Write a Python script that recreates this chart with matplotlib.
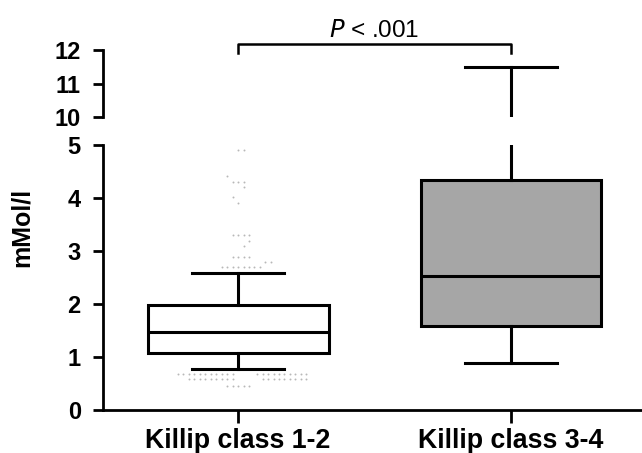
# Killip class box plot with broken y axis

import numpy as np
import matplotlib.pyplot as plt

plt.rcParams['font.family'] = ['Liberation Sans', 'DejaVu Sans']

categories = ['Killip class 1-2', 'Killip class 3-4']
whis_lo = [0.77, 0.88]
q1 = [1.08, 1.58]
median = [1.48, 2.52]
q3 = [1.98, 4.34]
whis_hi = [2.58, 11.5]
box_colors = ['white', '#a6a6a6']

# outlier dots of Killip 1-2 (value, horizontal offset)
dots_y = [4.91, 4.91,
          4.41,
          4.31, 4.31, 4.31,
          4.20, 4.01, 3.90,
          3.30, 3.30, 3.30, 3.30,
          3.19, 3.09,
          2.89, 2.89, 2.89, 2.89,
          2.79, 2.79,
          2.69, 2.69, 2.69, 2.69, 2.69, 2.69, 2.69, 2.69,
          0.67, 0.67, 0.67, 0.67, 0.67, 0.67, 0.67, 0.67, 0.67, 0.67, 0.67,
          0.67, 0.67, 0.67, 0.67, 0.67, 0.67, 0.67, 0.67, 0.67, 0.67,
          0.58, 0.58, 0.58, 0.58, 0.58, 0.58, 0.58, 0.58, 0.58,
          0.58, 0.58, 0.58, 0.58, 0.58, 0.58, 0.58, 0.58, 0.58,
          0.45, 0.45, 0.45, 0.45, 0.45]
dots_dx = [0.0, 0.02,
           -0.04,
           -0.02, 0.0, 0.02,
           0.02, -0.02, 0.0,
           -0.02, 0.0, 0.02, 0.04,
           0.04, 0.02,
           -0.02, 0.0, 0.02, 0.04,
           0.10, 0.12,
           -0.06, -0.04, -0.02, 0.0, 0.02, 0.04, 0.06, 0.08,
           -0.22, -0.20, -0.18, -0.16, -0.14, -0.12, -0.10, -0.08, -0.06, -0.04, -0.02,
           0.07, 0.09, 0.11, 0.13, 0.15, 0.17, 0.19, 0.21, 0.23, 0.25,
           -0.18, -0.16, -0.14, -0.12, -0.10, -0.08, -0.06, -0.04, -0.02,
           0.09, 0.11, 0.13, 0.15, 0.17, 0.19, 0.21, 0.23, 0.25,
           -0.04, -0.02, 0.0, 0.02, 0.04]

p_text = '$\\it{P}$ < .001'

fig = plt.figure(figsize=(6.42, 4.53), dpi=100)
ax_lo = fig.add_axes([0.1604, 0.0949, 0.8396, 0.5851])
ax_hi = fig.add_axes([0.1604, 0.7417, 0.8396, 0.1479])

stats = []
for i in range(2):
    stats.append(dict(whislo=whis_lo[i], q1=q1[i], med=median[i], q3=q3[i],
                      whishi=whis_hi[i], fliers=[], label=categories[i]))

lw = 2.2
for ax in (ax_lo, ax_hi):
    bp = ax.bxp(stats, positions=[0, 1], widths=0.663, patch_artist=True,
                showfliers=False,
                boxprops=dict(linewidth=lw, edgecolor='black'),
                medianprops=dict(linewidth=lw, color='black'),
                whiskerprops=dict(linewidth=lw, color='black'),
                capprops=dict(linewidth=lw, color='black'),
                capwidths=0.337)
    for patch, c in zip(bp['boxes'], box_colors):
        patch.set_facecolor(c)
    ax.set_xlim(-0.495, 1.48)
    ax.spines['top'].set_visible(False)
    ax.spines['right'].set_visible(False)
    ax.spines['left'].set_linewidth(2.0)
    ax.spines['bottom'].set_linewidth(2.0)
    ax.tick_params(axis='y', length=7, width=2.0, pad=9, labelsize=17)

ax_lo.plot(np.array(dots_dx), dots_y, 'o', ms=1.4, color='#b8b8b8', mew=0, zorder=1)

ax_lo.set_ylim(0, 5)
ax_lo.set_yticks([0, 1, 2, 3, 4, 5])
ax_lo.set_yticklabels(['0', '1', '2', '3', '4', '5'], fontweight='bold')
ax_lo.set_xticks([0, 1])
ax_lo.set_xticklabels(categories, fontsize=19.3, fontweight='bold')
ax_lo.tick_params(axis='x', length=9, width=2.0, pad=4)
ax_lo.set_ylabel('mMol/l', fontsize=18, fontweight='bold')
ax_lo.yaxis.set_label_coords(-0.128, 0.689)

ax_hi.set_ylim(10, 12)
ax_hi.set_yticks([10, 11, 12])
ax_hi.set_yticklabels(['10', '11', '12'], fontweight='bold')
ax_hi.spines['bottom'].set_visible(False)
ax_hi.set_xticks([])
ax_hi.patch.set_alpha(0)

# significance bracket
ax_hi.plot([0, 0, 1, 1], [11.9, 12.18, 12.18, 11.9], color='black', lw=1.8,
           clip_on=False)
ax_hi.text(0.5, 12.25, p_text, ha='center', va='bottom', fontsize=17.5)

plt.savefig('out.png', dpi=100)
